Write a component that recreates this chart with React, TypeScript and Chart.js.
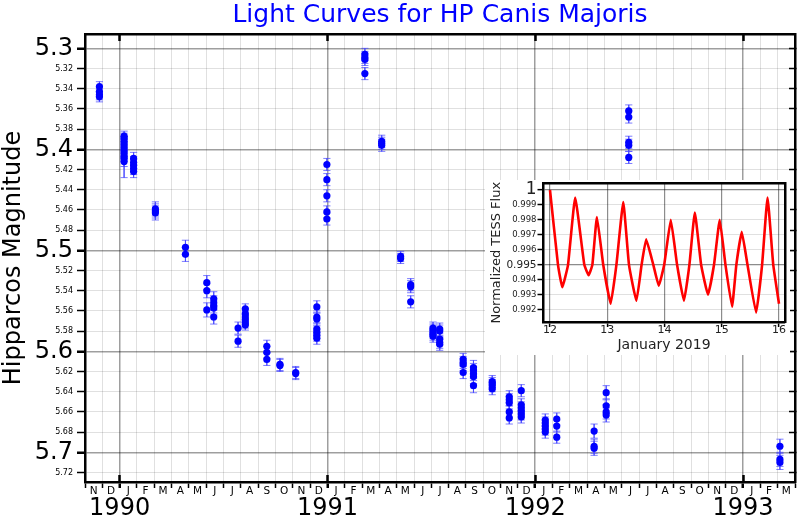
import React, { useEffect, useRef } from "react";
import { Chart, registerables } from "chart.js";

Chart.register(...registerables);
Chart.defaults.font.family = "'DejaVu Sans', sans-serif";

// ---------- text ----------
const TITLE = "Light Curves for HP Canis Majoris";
const Y_TITLE = "Hipparcos Magnitude";
const INSET_X_TITLE = "January 2019";
const INSET_Y_TITLE = "Normalized TESS Flux";

// ---------- main axis definitions ----------
const AXIS_START = "1989-11-01";
const AXIS_END = "1993-04-01";
const MONTH_LETTERS = ["J", "F", "M", "A", "M", "J", "J", "A", "S", "O", "N", "D"];
const YEAR_LABELS = ["1990", "1991", "1992", "1993"];
const Y_MIN = 5.2858;
const Y_MAX = 5.7294;
const yTickValues = [5.3, 5.32, 5.34, 5.36, 5.38, 5.4, 5.42, 5.44, 5.46, 5.48, 5.5, 5.52, 5.54, 5.56, 5.58, 5.6, 5.62, 5.64, 5.66, 5.68, 5.7, 5.72];
const yMajorTicks = [5.3, 5.4, 5.5, 5.6, 5.7];

// ---------- Hipparcos observations ----------
const obsDates = [
  "1989-11-26", "1990-01-09", "1990-01-09", "1990-01-26", "1990-03-03", "1990-04-25",
  "1990-06-02", "1990-06-14", "1990-07-27", "1990-08-09", "1990-09-16", "1990-10-09",
  "1990-11-06", "1990-12-13", "1990-12-31", "1991-03-06", "1991-04-05", "1991-05-08",
  "1991-05-26", "1991-07-04", "1991-07-16", "1991-08-27", "1991-09-14", "1991-10-17",
  "1991-11-16", "1991-12-07", "1992-01-19", "1992-02-08", "1992-04-13", "1992-05-04",
  "1992-06-13", "1993-03-05",
];
const obsMags = [
  [5.338, 5.343, 5.346, 5.348],
  [5.387, 5.389, 5.392, 5.395, 5.398, 5.401, 5.404, 5.407, 5.412],
  [5.409],
  [5.409, 5.413, 5.416, 5.419, 5.422],
  [5.459, 5.461, 5.463],
  [5.497, 5.504],
  [5.532, 5.54, 5.559],
  [5.548, 5.552, 5.555, 5.557, 5.566],
  [5.577, 5.59],
  [5.558, 5.563, 5.566, 5.569, 5.572, 5.574],
  [5.595, 5.601, 5.608],
  [5.613, 5.614],
  [5.621, 5.622],
  [5.556, 5.566, 5.568, 5.578, 5.581, 5.584, 5.587],
  [5.415, 5.43, 5.446, 5.462, 5.469],
  [5.306, 5.309, 5.311, 5.325],
  [5.392, 5.394, 5.396],
  [5.506, 5.508],
  [5.534, 5.536, 5.551],
  [5.577, 5.579, 5.581, 5.583, 5.585],
  [5.578, 5.58, 5.588, 5.591, 5.593],
  [5.608, 5.611, 5.613, 5.621],
  [5.616, 5.619, 5.622, 5.625, 5.634],
  [5.63, 5.632, 5.634, 5.637],
  [5.645, 5.648, 5.651, 5.66, 5.666],
  [5.639, 5.653, 5.656, 5.659, 5.662, 5.665],
  [5.668, 5.671, 5.674, 5.677, 5.68],
  [5.667, 5.674, 5.685],
  [5.679, 5.694, 5.696],
  [5.641, 5.654, 5.66, 5.663],
  [5.362, 5.368, 5.393, 5.396, 5.408],
  [5.694, 5.707, 5.71],
];
const obsErrs = [
  0.005, 0.005, 0.019, 0.006, 0.007, 0.007, 0.007, 0.007, 0.006, 0.005, 0.006, 0.006,
  0.006, 0.006, 0.006, 0.006, 0.006, 0.005, 0.006, 0.006, 0.006, 0.006, 0.007, 0.006,
  0.006, 0.006, 0.006, 0.006, 0.007, 0.007, 0.006, 0.007,
];

// ---------- TESS inset ----------
const tessDays = [
  12.0, 12.14, 12.215, 12.315, 12.44, 12.6, 12.675, 12.74, 12.82, 12.93, 13.06, 13.16,
  13.28, 13.38, 13.51, 13.6, 13.68, 13.805, 13.9, 13.995, 14.11, 14.22, 14.34, 14.435,
  14.53, 14.64, 14.76, 14.865, 14.965, 15.065, 15.18, 15.255, 15.35, 15.45, 15.6, 15.705,
  15.8, 15.9, 16.0,
];
const tessFlux = [
  1.0, 0.995, 0.9935, 0.995, 0.9995, 0.995, 0.9943, 0.995, 0.9982, 0.995, 0.9924, 0.995,
  0.9992, 0.995, 0.9926, 0.995, 0.9967, 0.995, 0.9936, 0.995, 0.998, 0.995, 0.9926, 0.995,
  0.9985, 0.995, 0.993, 0.995, 0.998, 0.995, 0.9922, 0.995, 0.9972, 0.995, 0.9918, 0.995,
  0.9995, 0.995, 0.9924,
];
const insetXTicks = [12, 13, 14, 15, 16];
const insetYTicks = [0.992, 0.993, 0.994, 0.995, 0.996, 0.997, 0.998, 0.999, 1.0];
const insetYMajor = [0.995, 1.0];
const INSET_X_MIN = 11.878;
const INSET_X_MAX = 16.105;
const INSET_Y_MIN = 0.991178;
const INSET_Y_MAX = 1.000434;

// ---------- helpers ----------
function monthIndex(date: string): number {
  const [y, m, d] = date.split("-").map(Number);
  const [y0, m0] = AXIS_START.split("-").map(Number);
  const days = new Date(Date.UTC(y, m, 0)).getUTCDate();
  return (y - y0) * 12 + (m - m0) + (d - 1) / days;
}
const X_MIN = monthIndex(AXIS_START);
const X_MAX = monthIndex(AXIS_END);
const monthStarts: number[] = [];
for (let k = Math.ceil(X_MIN); k <= X_MAX; k++) monthStarts.push(k);
const monthMids = monthStarts.filter((k) => k + 0.5 < X_MAX).map((k) => k + 0.5);
const yearStarts = YEAR_LABELS.map((y) => monthIndex(`${y}-01-01`));
const startMonth = Number(AXIS_START.split("-")[1]) - 1;

const near = (a: number, b: number) => Math.abs(a - b) < 1e-7;
const isYearStart = (v: any) => typeof v === "number" && yearStarts.some((y) => near(y, v));
const isMajorMag = (v: any) => typeof v === "number" && yMajorTicks.some((y) => near(y, v));
const isInsetMajor = (v: any) => typeof v === "number" && insetYMajor.some((y) => near(y, v));

const fitTo = (size: number) => (scale: any) => {
  if (scale.isHorizontal()) scale.height = size;
  else scale.width = size;
  scale.paddingTop = 0;
  scale.paddingBottom = 0;
  scale.paddingLeft = 0;
  scale.paddingRight = 0;
};
const setTicks = (values: number[]) => (scale: any) => {
  scale.ticks = values.map((v) => ({ value: v }));
};

const GRID_MAJOR = "rgba(0,0,0,0.38)";
const GRID_MINOR = "rgba(0,0,0,0.12)";
const ERR_COLOR = "rgba(70,70,255,0.7)";

function mainConfig(): any {
  const points: any[] = [];
  const caps: any[] = [];
  const bars: any[] = [];
  obsDates.forEach((d, i) => {
    const x = monthIndex(d);
    obsMags[i].forEach((m) => {
      const e = obsErrs[i];
      points.push({ x, y: m });
      caps.push({ x, y: m - e }, { x, y: m + e });
      bars.push({ x, y: m - e }, { x, y: m + e }, { x, y: null });
    });
  });

  const xBase = { type: "linear", min: X_MIN, max: X_MAX };
  const yBase = { type: "linear", min: Y_MIN, max: Y_MAX, reverse: true };

  return {
    type: "scatter",
    data: {
      datasets: [
        { data: points, pointRadius: 3.6, pointBackgroundColor: "#0000ff", pointBorderWidth: 0, order: 0 },
        { data: caps, pointStyle: "line", pointRadius: 3.6, pointBorderColor: ERR_COLOR, pointBorderWidth: 1, order: 1 },
        { data: bars, showLine: true, spanGaps: false, borderColor: ERR_COLOR, borderWidth: 1, pointRadius: 0, order: 2 },
      ],
    },
    options: {
      responsive: false,
      animation: false,
      events: [],
      layout: { padding: 0 },
      plugins: {
        legend: { display: false },
        tooltip: { enabled: false },
        title: {
          display: true,
          text: TITLE,
          color: "#0000ff",
          fullSize: false,
          font: { size: 25, weight: "normal" },
          padding: { top: 0.6, bottom: 3.4 },
        },
      },
      scales: {
        x: {
          ...xBase,
          position: "bottom",
          weight: 1,
          afterBuildTicks: setTicks(monthStarts),
          afterFit: fitTo(0),
          ticks: { display: false, autoSkip: false },
          grid: {
            color: (c: any) => (isYearStart(c.tick?.value) ? GRID_MAJOR : GRID_MINOR),
            lineWidth: (c: any) => (isYearStart(c.tick?.value) ? 1.5 : 1),
            drawTicks: true,
            tickLength: 6,
            tickColor: "#000",
            tickWidth: (c: any) => (isYearStart(c.tick?.value) ? 2.5 : 1.5),
          },
          border: { display: true, color: "#000", width: 2.5 },
        },
        xYearIn: {
          ...xBase,
          position: "bottom",
          weight: 0,
          afterBuildTicks: setTicks(yearStarts),
          afterFit: fitTo(0),
          ticks: { display: false, autoSkip: false },
          grid: { drawOnChartArea: false, drawTicks: true, tickLength: -7, tickColor: "#000", tickWidth: 2.5 },
          border: { display: false },
        },
        xMonth: {
          ...xBase,
          position: "bottom",
          weight: 2,
          afterBuildTicks: setTicks(monthMids),
          afterFit: fitTo(14),
          ticks: {
            autoSkip: false,
            maxRotation: 0,
            padding: 2.5,
            color: "#000",
            font: { size: 10.5 },
            callback: (v: number) => MONTH_LETTERS[(Math.floor(v) + startMonth) % 12],
          },
          grid: { display: false, drawTicks: false },
          border: { display: false },
        },
        xYear: {
          ...xBase,
          position: "bottom",
          weight: 3,
          afterBuildTicks: setTicks(yearStarts),
          afterFit: fitTo(24),
          ticks: {
            autoSkip: false,
            maxRotation: 0,
            padding: -1.6,
            color: "#000",
            font: { size: 24 },
            callback: (v: number) => YEAR_LABELS[yearStarts.findIndex((y) => near(y, v))],
          },
          grid: { display: false, drawTicks: false },
          border: { display: false },
        },
        xTop: {
          ...xBase,
          position: "top",
          afterBuildTicks: setTicks(yearStarts),
          afterFit: fitTo(0),
          ticks: { display: false, autoSkip: false },
          grid: { drawOnChartArea: false, drawTicks: true, tickLength: -7, tickColor: "#000", tickWidth: 2.5 },
          border: { display: true, color: "#000", width: 2.5 },
        },
        y: {
          ...yBase,
          position: "left",
          afterBuildTicks: setTicks(yTickValues),
          afterFit: fitTo(85),
          ticks: {
            autoSkip: false,
            padding: 4,
            color: "#000",
            font: (c: any) => ({ size: isMajorMag(c.tick?.value) ? 24 : 8 }),
            callback: (v: number) => (isMajorMag(v) ? v.toFixed(1) : v.toFixed(2)),
          },
          grid: {
            color: (c: any) => (isMajorMag(c.tick?.value) ? GRID_MAJOR : GRID_MINOR),
            lineWidth: (c: any) => (isMajorMag(c.tick?.value) ? 1.5 : 1),
            drawTicks: true,
            tickLength: 8,
            tickColor: "#000",
            tickWidth: (c: any) => (isMajorMag(c.tick?.value) ? 2.5 : 1.5),
          },
          border: { display: true, color: "#000", width: 2.5 },
          title: {
            display: true,
            text: Y_TITLE,
            color: "#000",
            font: { size: 24 },
            padding: { top: -1, bottom: 0 },
          },
        },
        y2: {
          ...yBase,
          position: "right",
          afterBuildTicks: setTicks(yTickValues),
          afterFit: fitTo(4),
          ticks: { display: false, autoSkip: false },
          grid: { drawOnChartArea: false, drawTicks: true, tickLength: -6, tickColor: "#000", tickWidth: 1.5 },
          border: { display: true, color: "#000", width: 2.5 },
        },
      },
    },
  };
}

function insetConfig(): any {
  const series = tessDays.map((t, i) => ({ x: t, y: tessFlux[i] }));
  return {
    type: "scatter",
    data: {
      datasets: [
        {
          data: series,
          showLine: true,
          borderColor: "#ff0000",
          borderWidth: 2.6,
          pointRadius: 0,
          tension: 0.12,
          borderJoinStyle: "round",
        },
      ],
    },
    options: {
      responsive: false,
      animation: false,
      events: [],
      layout: { padding: { top: 3.5, right: 5, bottom: 0, left: 0 } },
      plugins: { legend: { display: false }, tooltip: { enabled: false }, title: { display: false } },
      scales: {
        x: {
          type: "linear",
          position: "bottom",
          min: INSET_X_MIN,
          max: INSET_X_MAX,
          afterBuildTicks: setTicks(insetXTicks),
          afterFit: fitTo(33),
          ticks: { autoSkip: false, maxRotation: 0, padding: -3, color: "#222", font: { size: 11 }, callback: (v: number) => String(v) },
          grid: { color: "rgba(0,0,0,0.45)", lineWidth: 1.2, drawTicks: true, tickLength: 5, tickColor: "#000", tickWidth: 1.5 },
          border: { display: true, color: "#000", width: 2.5 },
          title: { display: true, text: INSET_X_TITLE, color: "#222", font: { size: 14 }, padding: { top: 0, bottom: 1.6 } },
        },
        xT: {
          type: "linear",
          position: "top",
          min: INSET_X_MIN,
          max: INSET_X_MAX,
          afterFit: fitTo(0),
          ticks: { display: false },
          grid: { display: false, drawTicks: false },
          border: { display: true, color: "#000", width: 2.5 },
        },
        y: {
          type: "linear",
          position: "left",
          min: INSET_Y_MIN,
          max: INSET_Y_MAX,
          afterBuildTicks: setTicks(insetYTicks),
          afterFit: fitTo(58),
          ticks: {
            autoSkip: false,
            padding: 1,
            color: "#222",
            font: (c: any) => ({ size: near(c.tick?.value, 1) ? 17 : near(c.tick?.value, 0.995) ? 10.5 : 8.5 }),
            callback: (v: number) => (near(v, 1) ? "1" : v.toFixed(3)),
          },
          grid: {
            color: (c: any) => (isInsetMajor(c.tick?.value) ? "rgba(0,0,0,0.45)" : "rgba(0,0,0,0.12)"),
            lineWidth: (c: any) => (isInsetMajor(c.tick?.value) ? 1.3 : 1),
            drawTicks: true,
            tickLength: 5.5,
            tickColor: "#000",
            tickWidth: 1.5,
          },
          border: { display: true, color: "#000", width: 2.5 },
          title: { display: true, text: INSET_Y_TITLE, color: "#222", font: { size: 13 }, padding: { top: 3.9, bottom: 0 } },
        },
        yR: {
          type: "linear",
          position: "right",
          min: INSET_Y_MIN,
          max: INSET_Y_MAX,
          afterFit: fitTo(0),
          ticks: { display: false },
          grid: { display: false, drawTicks: false },
          border: { display: true, color: "#000", width: 2.5 },
        },
      },
    },
  };
}

export default function App() {
  const mainRef = useRef<HTMLCanvasElement>(null);
  const insetRef = useRef<HTMLCanvasElement>(null);
  useEffect(() => {
    const main = new Chart(mainRef.current as HTMLCanvasElement, mainConfig());
    const inset = new Chart(insetRef.current as HTMLCanvasElement, insetConfig());
    return () => {
      main.destroy();
      inset.destroy();
    };
  }, []);
  return (
    <div style={{ position: "absolute", left: 0, top: 0, width: 800, height: 520, background: "#fff", overflow: "hidden" }}>
      <canvas ref={mainRef} width={800} height={520} style={{ position: "absolute", left: 0, top: 0, width: 800, height: 520 }} />
      <canvas
        ref={insetRef}
        width={305}
        height={175}
        style={{ position: "absolute", left: 485, top: 180, width: 305, height: 175, background: "#fff", zIndex: 2 }}
      />
    </div>
  );
}
